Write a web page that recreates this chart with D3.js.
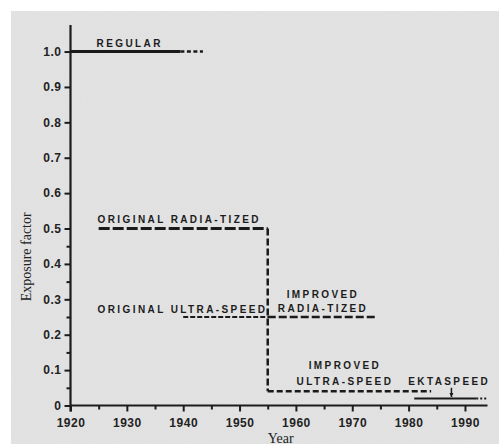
<!DOCTYPE html>
<html>
<head>
<meta charset="utf-8">
<script src="https://cdn.jsdelivr.net/npm/d3@7/dist/d3.min.js"></script>
<style>
  body { margin: 0; background: #fff; }
  .tick text { font-family: "Liberation Sans", Arial, sans-serif; font-weight: bold; font-size: 12px; fill: #222; letter-spacing: 0.5px; }
  .tick line { stroke: #1c1c1c; stroke-width: 2; }
  .lbl { font-family: "Liberation Sans", Arial, sans-serif; font-weight: bold; font-size: 10px; letter-spacing: 2.4px; fill: #1c1c1c; }
  .title { font-family: "Liberation Serif", "Times New Roman", serif; font-size: 14px; fill: #222; }
</style>
</head>
<body>
<svg id="chart" width="503" height="444"></svg>
<script>
// axis ticks
const yearTicks = [1920, 1930, 1940, 1950, 1960, 1970, 1980, 1990];
const yearMinor = [1925, 1935, 1945, 1955, 1965, 1975, 1985];
const factorTicks = [0, 0.1, 0.2, 0.3, 0.4, 0.5, 0.6, 0.7, 0.8, 0.9, 1.0];
const factorMinor = [0.05, 0.15, 0.25, 0.35, 0.45];

// film series: [year, exposure factor]
const regular = [[1920, 1.0], [1939.5, 1.0]];
const regularLater = [[1939.5, 1.0], [1943.5, 1.0]];
const originalRadia = [[1925, 0.5], [1955, 0.5]];
const radiaDrop = [[1955, 0.5], [1955, 0.04]];
const originalUltra = [[1940, 0.25], [1955, 0.25]];
const improvedRadia = [[1955, 0.25], [1974, 0.25]];
const improvedUltra = [[1955, 0.04], [1984, 0.04]];
const ektaspeed = [[1981, 0.02], [1992, 0.02]];
const ektaspeedLater = [[1992, 0.02], [1994, 0.02]];

// labels: text with the year/factor they sit at
const labels = [
  {text: "REGULAR", year: 1930.5, value: 1.013, anchor: "middle"},
  {text: "ORIGINAL RADIA-TIZED", year: 1924.8, value: 0.515, anchor: "start"},
  {text: "ORIGINAL ULTRA-SPEED", year: 1924.8, value: 0.261, anchor: "start"},
  {text: "IMPROVED", year: 1964.8, value: 0.304, anchor: "middle"},
  {text: "RADIA-TIZED", year: 1964.8, value: 0.264, anchor: "middle"},
  {text: "IMPROVED", year: 1968.7, value: 0.103, anchor: "middle"},
  {text: "ULTRA-SPEED", year: 1968.7, value: 0.058, anchor: "middle"},
  {text: "EKTASPEED", year: 1987.2, value: 0.058, anchor: "middle"}
];
const ektaArrow = [[1987.6, 0.05], [1987.6, 0.024]];

let margin = {left: 70.5, top: 25};
let width = 417;
let height = 380.5;

let svg = d3.select("#chart");

// paper background of the scan
let defs = svg.append("defs");
let grain = defs.append("filter").attr("id", "grain");
grain.append("feTurbulence").attr("type", "fractalNoise").attr("baseFrequency", 0.9).attr("numOctaves", 2).attr("seed", 3);
grain.append("feColorMatrix").attr("type", "matrix")
  .attr("values", "0 0 0 0 0.5  0 0 0 0 0.5  0 0 0 0 0.5  0 0 0 0.08 0");
grain.append("feComposite").attr("in2", "SourceGraphic").attr("operator", "in");

svg.append("rect").attr("x", 11).attr("y", 11).attr("width", 488).attr("height", 433).attr("fill", "#e3e3e3");
svg.append("rect").attr("x", 11).attr("y", 11).attr("width", 488).attr("height", 433).attr("fill", "#e3e3e3").attr("filter", "url(#grain)");

let g = svg.append("g").attr("transform", "translate(" + margin.left + "," + margin.top + ")");

let x = d3.scaleLinear().domain([1920, 1994]).range([0, width]);
let y = d3.scaleLinear().domain([0, 1.075]).range([height, 0]);

// x axis
let xAxis = g.append("g")
  .attr("transform", "translate(0," + height + ")")
  .call(d3.axisBottom(x).tickValues(yearTicks).tickSize(6).tickPadding(7).tickFormat(d3.format("d")));
xAxis.select(".domain").remove();
g.append("g")
  .attr("transform", "translate(0," + height + ")")
  .call(d3.axisBottom(x).tickValues(yearMinor).tickSize(4).tickFormat(""))
  .select(".domain").remove();
g.append("line").attr("x1", x(1920)).attr("x2", x(1994)).attr("y1", height).attr("y2", height)
  .attr("stroke", "#1c1c1c").attr("stroke-width", 2.2);

// y axis
let yAxis = g.append("g")
  .call(d3.axisLeft(y).tickValues(factorTicks).tickSize(6).tickPadding(3)
    .tickFormat(d => d === 0 ? "0" : d.toFixed(1)));
yAxis.select(".domain").remove();
g.append("g")
  .call(d3.axisLeft(y).tickValues(factorMinor).tickSize(4).tickFormat(""))
  .select(".domain").remove();
g.append("line").attr("x1", 0).attr("x2", 0).attr("y1", y(0) + 6).attr("y2", y(1.075))
  .attr("stroke", "#1c1c1c").attr("stroke-width", 2.2);

// axis titles
g.append("text").attr("class", "title")
  .attr("transform", "rotate(-90)")
  .attr("x", -(y(0.42)))
  .attr("y", -40)
  .attr("text-anchor", "middle")
  .text("Exposure factor");
g.append("text").attr("class", "title")
  .attr("x", x(1957.3))
  .attr("y", height + 37)
  .attr("text-anchor", "middle")
  .text("Year");

// series
let line = d3.line().x(p => x(p[0])).y(p => y(p[1]));
const series = [
  {data: regular, w: 3, dash: null},
  {data: regularLater, w: 2.5, dash: "4,2.5"},
  {data: originalRadia, w: 3, dash: "11,3"},
  {data: radiaDrop, w: 2.5, dash: "7,3"},
  {data: originalUltra, w: 2, dash: "5,2"},
  {data: improvedRadia, w: 2.5, dash: "8,3"},
  {data: improvedUltra, w: 2.5, dash: "6,3"},
  {data: ektaspeed, w: 2, dash: null},
  {data: ektaspeedLater, w: 2, dash: "2,2"}
];
g.append("g").selectAll("path")
  .data(series)
  .enter()
  .append("path")
  .attr("d", s => line(s.data))
  .attr("fill", "none")
  .attr("stroke", "#1a1a1a")
  .attr("stroke-width", s => s.w)
  .attr("stroke-dasharray", s => s.dash);

// labels
g.append("g").selectAll("text")
  .data(labels)
  .enter()
  .append("text")
  .attr("class", "lbl")
  .attr("x", d => x(d.year))
  .attr("y", d => y(d.value))
  .attr("text-anchor", d => d.anchor)
  .text(d => d.text);

// little arrow under EKTASPEED
g.append("path").attr("d", line(ektaArrow)).attr("stroke", "#1a1a1a").attr("stroke-width", 1.5);
g.append("path")
  .attr("d", "M" + (x(1987.6) - 2) + "," + (y(0.024) - 4) + "L" + (x(1987.6) + 2) + "," + (y(0.024) - 4) + "L" + x(1987.6) + "," + y(0.024) + "Z")
  .attr("fill", "#1a1a1a");
</script>
</body>
</html>
